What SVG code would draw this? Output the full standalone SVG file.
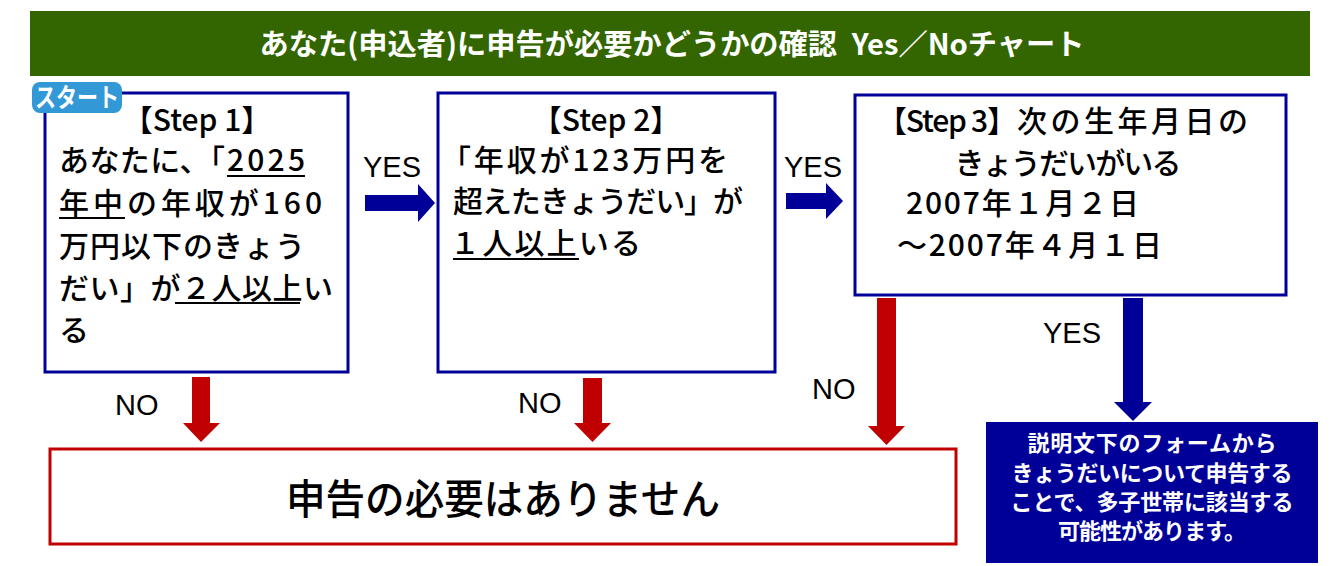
<svg xmlns="http://www.w3.org/2000/svg" width="1331" height="566" viewBox="0 0 1331 566">
<style>
text{font-family:"Noto Sans CJK JP","Noto Sans",sans-serif;}
.box{fill:#fff;stroke:#000099;stroke-width:3;}
.nobox{fill:#fff;stroke:#c00000;stroke-width:3;}
.st{font-size:30px;font-weight:500;fill:#000;}
.ul{stroke:#000;stroke-width:2;}
.lbl{font-family:"Liberation Sans",Arial,sans-serif;font-size:29px;fill:#000;}
.red{fill:#c00000;}
.blue{fill:#000099;}
.wt{font-size:22px;font-weight:bold;fill:#fff;}
</style>
<rect width="1331" height="566" fill="#fff"/>
<g id="title">
<rect x="30" y="11" width="1280" height="65" fill="#336600"/>
<text x="672" y="55" text-anchor="middle" font-size="29" font-weight="bold" fill="#fff" textLength="825" lengthAdjust="spacingAndGlyphs">あなた(申込者)に申告が必要かどうかの確認&#8194;Yes／Noチャート</text>
</g>
<g id="step1">
<rect class="box" x="45" y="93" width="303" height="279"/>
<text class="st" x="197" y="131" text-anchor="middle">【Step 1】</text>
<text class="st" x="59" y="171"><tspan textLength="166" lengthAdjust="spacing">あなたに、「</tspan><tspan x="227" textLength="78" lengthAdjust="spacing">2025</tspan></text>
<line class="ul" x1="227" y1="176" x2="305" y2="176"/>
<text class="st" x="59" y="214" textLength="263" lengthAdjust="spacing">年中の年収が160</text>
<line class="ul" x1="59" y1="218" x2="125" y2="218"/>
<text class="st" x="59" y="257" textLength="246" lengthAdjust="spacing">万円以下のきょう</text>
<text class="st"><tspan x="59" y="299" textLength="274" lengthAdjust="spacing">だい」が２人以上い</tspan><tspan x="59" y="341">る</tspan></text>
<line class="ul" x1="175" y1="303" x2="300" y2="303"/>
</g>
<g id="badge">
<rect x="32" y="82" width="90" height="31" rx="8" fill="#3399d6"/>
<text x="77" y="107" text-anchor="middle" font-size="26" font-weight="bold" fill="#fff" textLength="84" lengthAdjust="spacingAndGlyphs">スタート</text>
</g>
<g id="step2">
<rect class="box" x="438" y="93" width="337" height="279"/>
<text class="st" x="606" y="131" text-anchor="middle">【Step 2】</text>
<text class="st" x="441" y="171" textLength="287" lengthAdjust="spacing">「年収が123万円を</text>
<text class="st" x="453" y="212" textLength="290" lengthAdjust="spacing">超えたきょうだい」が</text>
<text class="st" x="450" y="254" textLength="191" lengthAdjust="spacing">１人以上いる</text>
<line class="ul" x1="453" y1="259" x2="579" y2="259"/>
</g>
<g id="step3">
<rect class="box" x="855" y="95" width="431" height="200"/>
<text class="st" y="132"><tspan x="877" textLength="140" lengthAdjust="spacing">【Step 3】</tspan><tspan x="1017" textLength="231" lengthAdjust="spacing">次の生年月日の</tspan></text>
<text class="st" x="1068" y="174" text-anchor="middle" textLength="227" lengthAdjust="spacing">きょうだいがいる</text>
<text class="st" x="906" y="214" textLength="233" lengthAdjust="spacing">2007年１月２日</text>
<text class="st" x="897" y="256" textLength="265" lengthAdjust="spacing">～2007年４月１日</text>
</g>
<g id="result-no">
<rect class="nobox" x="50" y="449" width="906" height="95"/>
<text x="503" y="514" text-anchor="middle" font-size="41" font-weight="500" fill="#000" textLength="434" lengthAdjust="spacingAndGlyphs">申告の必要はありません</text>
</g>
<g id="result-yes">
<rect x="986" y="422" width="332" height="141" fill="#000099"/>
<text class="wt" x="1152" y="451" text-anchor="middle" textLength="249" lengthAdjust="spacing">説明文下のフォームから</text>
<text class="wt" x="1152" y="481" text-anchor="middle" textLength="281" lengthAdjust="spacing">きょうだいについて申告する</text>
<text class="wt" x="1152" y="510" text-anchor="middle" textLength="283" lengthAdjust="spacing">ことで、多子世帯に該当する</text>
<text class="wt" x="1152" y="539" text-anchor="middle" textLength="188" lengthAdjust="spacing">可能性があります。</text>
</g>
<g id="connectors">
<polygon class="blue" points="365,195 418,195 418,184 435,203 418,222 418,211 365,211"/>
<text class="lbl" x="363" y="177">YES</text>
<polygon class="blue" points="786,193 826,193 826,183 843,201 826,219 826,209 786,209"/>
<text class="lbl" x="784" y="177">YES</text>
<polygon class="red" points="192,377 210,377 210,423 220,423 201,442 183,423 192,423"/>
<text class="lbl" x="115" y="415">NO</text>
<polygon class="red" points="583,378 602,378 602,423 611,423 592.5,442 574,423 583,423"/>
<text class="lbl" x="518" y="413">NO</text>
<polygon class="red" points="877,298 896,298 896,426 905,426 886.5,445 868,426 877,426"/>
<text class="lbl" x="812" y="399">NO</text>
<polygon class="blue" points="1123,298 1143,298 1143,402 1152,402 1133,421 1114,402 1123,402"/>
<text class="lbl" x="1043" y="343">YES</text>
</g>
</svg>
